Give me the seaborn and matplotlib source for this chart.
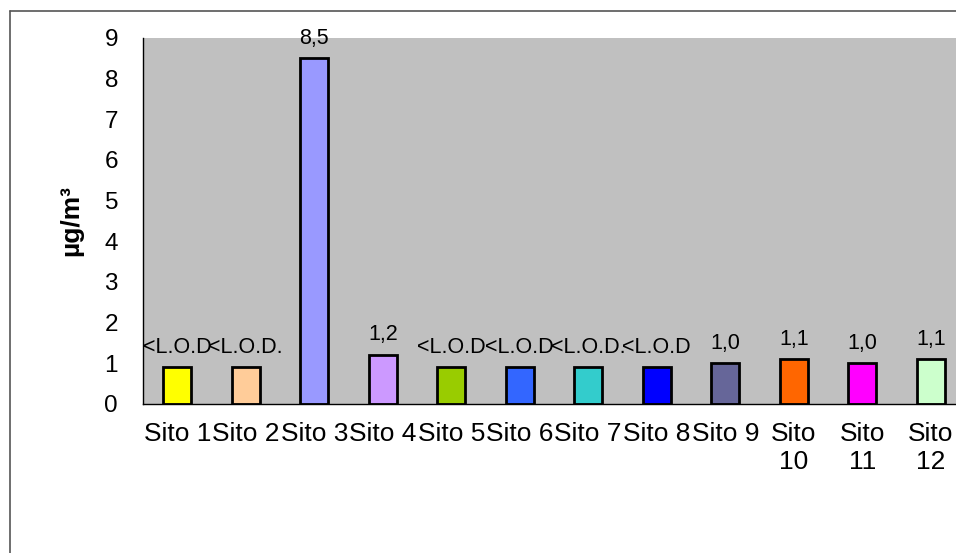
import numpy as np
import pandas as pd
import matplotlib.pyplot as plt
import seaborn as sns
from matplotlib.lines import Line2D

sns.set_style('white')
plt.rcParams['font.family'] = ['Liberation Sans', 'DejaVu Sans']
plt.rcParams['text.color'] = 'black'
plt.rcParams['xtick.color'] = 'black'
plt.rcParams['ytick.color'] = 'black'
plt.rcParams['axes.labelcolor'] = 'black'

# values per site (the <L.O.D. sites are drawn at 0.9 in the original)
sites = ['Sito 1', 'Sito 2', 'Sito 3', 'Sito 4', 'Sito 5', 'Sito 6',
         'Sito 7', 'Sito 8', 'Sito 9', 'Sito 10', 'Sito 11', 'Sito 12']
tick_labels = ['Sito 1', 'Sito 2', 'Sito 3', 'Sito 4', 'Sito 5', 'Sito 6',
               'Sito 7', 'Sito 8', 'Sito 9', 'Sito\n10', 'Sito\n11', 'Sito\n12']
values = [0.9, 0.9, 8.5, 1.2, 0.9, 0.9, 0.9, 0.9, 1.0, 1.1, 1.0, 1.1]
bar_texts = ['<L.O.D', '<L.O.D.', '8,5', '1,2', '<L.O.D', '<L.O.D',
             '<L.O.D.', '<L.O.D', '1,0', '1,1', '1,0', '1,1']
colors = ['#FFFF00', '#FFCC99', '#9999FF', '#CC99FF', '#99CC00', '#3366FF',
          '#33CCCC', '#0000FF', '#666699', '#FF6600', '#FF00FF', '#CCFFCC']

df = pd.DataFrame({'Sito': sites, 'Valore': values})

fig = plt.figure(figsize=(9.56, 5.53), dpi=100)
# axes runs past the right edge, as in the original (cut off)
ax = fig.add_axes([143/956, 149/553, 822/956, 366/553])
ax.set_facecolor('#C0C0C0')

sns.barplot(data=df, x='Sito', y='Valore', hue='Sito', palette=colors, saturation=1,
            width=0.41, edgecolor='black', linewidth=2.0, legend=False, ax=ax)

for cont, txt in zip(ax.containers, bar_texts):
    ax.bar_label(cont, labels=[txt], padding=7, fontsize=15.5)

ax.set_xlim(-0.5, 11.5)
ax.set_ylim(0, 9)
ax.set_yticks(range(10))
ax.set_xticks(range(12))
ax.set_xticklabels(tick_labels, fontsize=19, linespacing=1.2)
ax.set_xticks(np.arange(-0.5, 12, 1), minor=True)
ax.tick_params(axis='x', which='major', length=0, pad=13)
ax.tick_params(axis='x', which='minor', length=6, width=0.8, direction='out')
ax.tick_params(axis='y', length=6, width=0.8, direction='out',
               labelsize=17.5, pad=12)
ax.set_xlabel('')
ax.set_ylabel('µg/m³', fontsize=19, fontweight='bold', labelpad=15)

for s in ['top', 'right']:
    ax.spines[s].set_visible(False)
for s in ['left', 'bottom']:
    ax.spines[s].set_color('black')
    ax.spines[s].set_linewidth(1.0)

# outer chart frame (partly cut off)
fy = 1 - 11/553
fx = 10/956
fig.add_artist(Line2D([fx, fx], [0, fy], transform=fig.transFigure, color='#555555', lw=1.2))
fig.add_artist(Line2D([fx, 1], [fy, fy], transform=fig.transFigure, color='#555555', lw=1.2))

fig.savefig('out.png', dpi=100)
